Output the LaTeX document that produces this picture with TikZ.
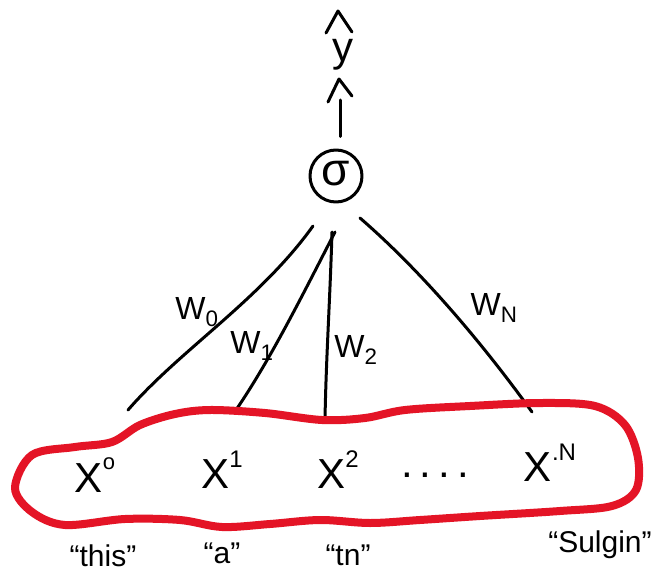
\documentclass[tikz,border=0pt]{standalone}
\usepackage{fontspec}
\setmainfont{Liberation Sans}
\begin{document}
\begin{tikzpicture}[x=1pt,y=-1pt,line cap=round,line join=round,
  ink/.style={line width=3pt,black},
  redloop/.style={line width=8pt,color={rgb,255:red,228;green,20;blue,38}},
  big/.style={font=\fontsize{42}{42}\selectfont,inner sep=0pt},
  wlbl/.style={font=\fontsize{32}{32}\selectfont,inner sep=0pt},
  word/.style={font=\fontsize{30}{30}\selectfont,inner sep=0pt},
  edge/.style={ink}]
\useasboundingbox (0,0) rectangle (664,583);
\fill[white] (0,0) rectangle (664,583);
% output
\draw[ink] (326,33) -- (338,11) -- (352,32);
\node[font=\fontsize{42}{42}\selectfont,inner sep=0pt] (yhat) at (343,55) {y};
\draw[ink] (328,102) -- (339,79) -- (352,96);
\node[circle,draw,ink,minimum size=52pt,inner sep=0pt,font=\fontsize{46}{46}\selectfont] (s) at (336,176) {\raisebox{0.1em}{σ}};
\coordinate (top) at (340,100);
\draw[ink] (s.north) ++(4,-12) coordinate (st) -- (top);
% inputs
\node[big] (x0) at (95,475) {X\raisebox{0.55em}{\fontsize{22}{22}\selectfont o}};
\node[big] (x1) at (222,470) {X\raisebox{0.5em}{\fontsize{24}{24}\selectfont 1}};
\node[big] (x2) at (338,470) {X\raisebox{0.5em}{\fontsize{24}{24}\selectfont 2}};
\node[big] (dots) at (435,475) {.\,.\,.\,.};
\node[big] (xn) at (550,463) {X\raisebox{0.5em}{\fontsize{24}{24}\selectfont .N}};
% end points of edges
\coordinate (e0) at (128,410);
\coordinate (e1) at (236,410);
\coordinate (e2) at (325,420);
\coordinate (en) at (532,412);
\coordinate (b0) at (313,226);
\coordinate (b1) at (335,232);
\coordinate (b2) at (332,232);
\coordinate (bn) at (360,218);
\draw[edge] (b0) .. controls (260,300) and (180,350) .. (e0);
\draw[edge] (b1) .. controls (300,300) and (270,360) .. (e1);
\draw[edge] (b2) .. controls (330,300) and (326,360) .. (e2);
\draw[edge] (bn) .. controls (420,270) and (480,340) .. (en);
% weights
\node[wlbl] (w0) at (197,312) {W\textsubscript{0}};
\node[wlbl] (w1) at (252,346) {W\textsubscript{1}};
\node[wlbl] (w2) at (356,350) {W\textsubscript{2}};
\node[wlbl] (wn) at (494,308) {W\textsubscript{N}};
% red loop
\draw[redloop] plot[smooth cycle,tension=0.55] coordinates {
 (15,488) (32,455) (75,447) (112,442) (140,425) (175,414) (210,410)
 (265,413) (322,420) (365,418) (405,410) (470,406) (540,403) (595,406)
 (625,425) (638,458) (636,490) (612,506) (560,511) (480,516) (420,520)
 (370,523) (320,520) (270,524) (222,527) (180,520) (125,519) (65,525) (32,512)};
% words
\node[word] (t0) at (103,556) {``this''};
\node[word] (t1) at (222,553) {``a''};
\node[word] (t2) at (348,555) {``tn''};
\node[word] (t3) at (600,545) {``Sulgin''};
\end{tikzpicture}
\end{document}
